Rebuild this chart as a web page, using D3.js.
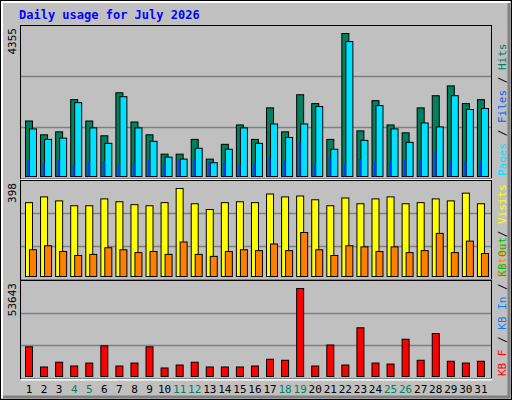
<!DOCTYPE html>
<html><head><meta charset="utf-8">
<script src="https://cdn.jsdelivr.net/npm/d3@7"></script>
<style>body{margin:0;background:#fff}text{font-family:"DejaVu Sans Mono",monospace}</style>
</head><body>
<script>
// values
const days = d3.range(1, 32);
const weekend = [4, 5, 11, 12, 18, 19, 25, 26];
const hits = [1690,1270,1360,2340,1690,1240,2550,1660,1270,680,680,1130,530,980,1570,1130,2090,1360,2490,2220,1130,4355,1390,2310,1570,1330,2090,2460,2760,2220,2340];
const files = [1450,1130,1170,2250,1480,1010,2430,1480,1070,590,530,860,420,830,1480,1010,1600,1190,1600,2130,830,4110,1100,2160,1450,1040,1630,1510,2460,2040,2070];
const pages = [500,400,500,360,440,470,360,420,500,360,530,500,440,400,360,420,590,470,1040,400,560,390,530,440,440,530,500,740,470,470,470];
const visits = [334,360,342,320,320,351,338,325,320,334,398,329,303,334,338,334,373,360,364,347,320,355,329,351,360,329,334,351,342,377,329];
const sites = [121,139,113,95,100,130,121,108,113,100,156,100,91,113,121,117,147,117,199,121,95,139,134,113,134,108,117,195,108,160,104];
const kbF = [18100,5800,8700,6400,8200,18700,6400,8200,18100,5200,7000,8700,5800,5800,5800,6400,10500,9900,53643,6400,19200,7000,29700,8200,7600,22700,9900,26200,9300,8200,9300];

const W = 512, H = 400, L = 20, R = 491;
const svg = d3.select('body').append('svg').attr('width', W).attr('height', H);

// frame
svg.append('rect').attr('x', 0).attr('y', 0).attr('width', W).attr('height', H).attr('fill', '#c0c0c0');
svg.append('rect').attr('x', 0.5).attr('y', 0.5).attr('width', W - 1).attr('height', H - 1).attr('fill', 'none').attr('stroke', '#000');
svg.append('path').attr('d', `M2,${H-2}V2H${W-2}`).attr('fill', 'none').attr('stroke', '#fff').attr('stroke-width', 2);
svg.append('path').attr('d', `M3,${H-3}H${W-3}V3`).attr('fill', 'none').attr('stroke', '#808080').attr('stroke-width', 3);

svg.append('text').attr('x', 19).attr('y', 19).attr('fill', '#0000ff').attr('font-weight', 'bold')
  .attr('font-size', 12).text('Daily usage for July 2026');

const x = d3.scaleBand().domain(days).range([L + 3, R - 1]).paddingInner(0);

function panel(top, bottom, base, maxV, maxLabel, series, labels) {
  svg.append('rect').attr('x', L + 0.5).attr('y', top + 0.5).attr('width', R - L).attr('height', bottom - top)
    .attr('fill', '#c0c0c0').attr('stroke', '#000');
  svg.append('path').attr('d', `M${L+1},${bottom+1.5}H${R+1}`).attr('stroke', '#fff').attr('stroke-width', 2);
  const y = d3.scaleLinear().domain([0, maxV]).range([base, top + 4]);
  [1 / 3, 2 / 3].forEach(f => {
    const gy = Math.round(top + (bottom - top) * f) + 0.5;
    svg.append('line').attr('x1', L + 1).attr('x2', R).attr('y1', gy).attr('y2', gy).attr('stroke', '#808080').attr('stroke-width', 1.5);
  });
  series.forEach(s => {
    svg.append('g').selectAll('rect').data(s.values).join('rect')
      .attr('x', (d, i) => x(days[i]) + s.dx + 0.5)
      .attr('y', d => y(d) + 0.5)
      .attr('width', s.w).attr('height', d => base - y(d))
      .attr('fill', s.color).attr('stroke', s.stroke ? '#000' : 'none');
  });
  svg.append('text').attr('transform', `translate(16,${top + 3}) rotate(-90)`).attr('text-anchor', 'end')
    .attr('font-size', 11).attr('font-family', 'DejaVu Sans').text(maxLabel);
  const t = svg.append('text').attr('transform', `translate(506,${bottom - 2}) rotate(-90)`)
    .attr('font-size', 11);
  labels.forEach(l => t.append('tspan').attr('fill', l[1]).text(l[0]));
}

panel(25, 178, 176, 4355 * 147 / 143, '4355', [
  { values: hits, dx: 2, w: 7, color: '#00805c', stroke: true },
  { values: files, dx: 6, w: 7, color: '#00e0ff', stroke: true },
  { values: pages, dx: 4, w: 2, color: '#0040ff', stroke: false }
], [['Pages', '#00e0ff'], [' / ', '#000'], ['Files', '#0060ff'], [' / ', '#000'], ['Hits', '#00805c']]);

panel(180, 279, 276, 398 * 92 / 88, '398', [
  { values: visits, dx: 2, w: 7, color: '#ffff00', stroke: true },
  { values: sites, dx: 6, w: 7, color: '#ff8000', stroke: true }
], [['Sites', '#ff8000'], [' / ', '#000'], ['Visits', '#ffff00']]);

panel(280, 378, 376, 53643 * 92 / 88, '53643', [
  { values: kbF, dx: 2, w: 7, color: '#ff0000', stroke: true }
], [['KB F', '#ff0000'], [' / ', '#000'], ['KB In', '#0080ff'], [' / ', '#000'], ['KB Out', '#00c000']]);

svg.append('g').selectAll('text').data(days).join('text')
  .attr('x', d => x(d) + 6).attr('y', 393).attr('text-anchor', 'middle')
  .attr('font-size', 11).attr('font-family', 'DejaVu Sans')
  .attr('fill', d => weekend.includes(d) ? '#00805c' : '#000').text(d => d);
</script>
</body></html>
